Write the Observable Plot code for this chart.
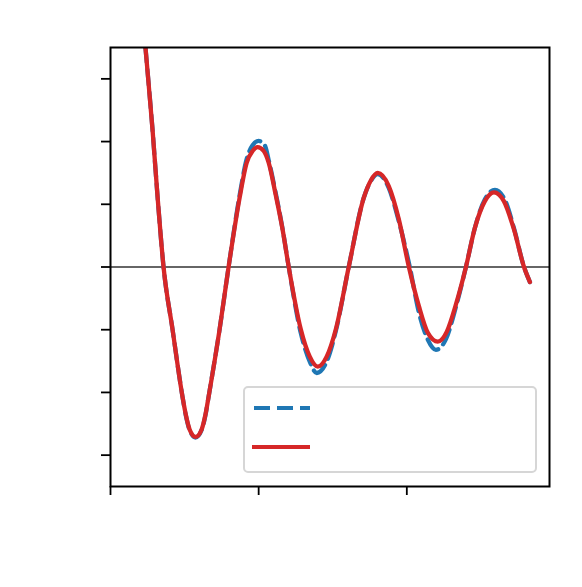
<!DOCTYPE html>
<html>
<head>
<meta charset="utf-8">
<script src="https://cdn.jsdelivr.net/npm/d3@7"></script>
<script src="https://cdn.jsdelivr.net/npm/@observablehq/plot@0.6"></script>
<style>
  body { margin: 0; background: #fff; font-family: "DejaVu Sans", sans-serif; }
  #wrap { position: relative; width: 582px; height: 587px; }
  #legend { position: absolute; left: 243px; top: 386px; width: 290px; height: 83px;
            border: 2px solid #d6d6d6; border-radius: 5px; background: rgba(255,255,255,0.8); }
  #legend svg { position: absolute; left: 0; top: 0; }
</style>
</head>
<body>
<div id="wrap"></div>
<script>
// Series
const xRed  = [0.209,0.236,0.284,0.318,0.358,0.419,0.486,0.507,0.534,0.574,0.615,0.642,0.662,0.736,0.797,0.872,0.919,0.959,0.993,1.034,1.068,1.115,1.162,1.203,1.284,1.345,1.399,1.459,1.520,1.608,1.709,1.757,1.804,1.878,1.946,2.014,2.081,2.142,2.209,2.270,2.331,2.399,2.459,2.527,2.588,2.655,2.723,2.791,2.831];
const yRed  = [4.25,3.50,2.18,1.11,0,-1.00,-2.07,-2.34,-2.59,-2.71,-2.59,-2.34,-2.07,-1.00,0,1.11,1.66,1.85,1.91,1.85,1.66,1.15,0.59,0,-0.99,-1.43,-1.59,-1.43,-1.00,0,1.10,1.38,1.50,1.29,0.76,0,-0.62,-1.05,-1.19,-1.03,-0.60,0,0.62,1.05,1.19,1.05,0.60,0,-0.24];
const xBlue = [0.209,0.236,0.284,0.318,0.358,0.419,0.486,0.507,0.534,0.574,0.615,0.642,0.662,0.736,0.797,0.872,0.919,0.959,1.000,1.041,1.068,1.115,1.162,1.203,1.284,1.345,1.392,1.459,1.520,1.608,1.709,1.757,1.804,1.878,1.946,2.020,2.081,2.142,2.196,2.264,2.331,2.399,2.459,2.527,2.595,2.662,2.723,2.791,2.831];
const yBlue = [4.25,3.50,2.18,1.11,0,-1.00,-2.07,-2.35,-2.60,-2.72,-2.60,-2.35,-2.07,-1.00,0,1.15,1.72,1.94,2.01,1.94,1.70,1.18,0.60,0,-1.05,-1.51,-1.69,-1.51,-1.03,0,1.10,1.37,1.48,1.26,0.73,0,-0.72,-1.16,-1.32,-1.15,-0.64,0,0.62,1.08,1.23,1.07,0.62,0,-0.24];
const xTicks = [0, 1, 2];
const yTicks = [-3, -2, -1, 0, 1, 2, 3];
const xDomain = [0, 2.963];
const yDomain = [-3.5, 3.5];

const red = xRed.map((x, i) => ({x, y: yRed[i]}));
const blue = xBlue.map((x, i) => ({x, y: yBlue[i]}));

const chart = Plot.plot({
  width: 582,
  height: 587,
  marginLeft: 110,
  marginRight: 33,
  marginTop: 47,
  marginBottom: 101,
  x: {domain: xDomain},
  y: {domain: yDomain},
  style: {background: "white"},
  marks: [
    Plot.ruleY([0], {stroke: "#333", strokeWidth: 1.5}),
    Plot.line(blue, {x: "x", y: "y", stroke: "#1f77b4", strokeWidth: 4.3, strokeDasharray: "16,7", curve: "monotone-x", clip: true}),
    Plot.line(red, {x: "x", y: "y", stroke: "#d62728", strokeWidth: 4.3, curve: "monotone-x", clip: true}),
    Plot.axisX({ticks: xTicks, tickSize: 9, tickFormat: () => "", label: null, strokeWidth: 1.8, stroke: "black"}),
    Plot.axisY({ticks: yTicks, tickSize: 9, tickFormat: () => "", label: null, strokeWidth: 1.8, stroke: "black"}),
    Plot.frame({stroke: "black", strokeWidth: 2})
  ]
});
const wrap = document.getElementById("wrap");
wrap.appendChild(chart);

const legend = document.createElement("div");
legend.id = "legend";
legend.innerHTML = `<svg width="290" height="83">
  <line x1="9" x2="65" y1="20" y2="20" stroke="#1f77b4" stroke-width="4" stroke-dasharray="16,7"></line>
  <line x1="7" x2="65" y1="59" y2="59" stroke="#d62728" stroke-width="4"></line>
</svg>`;
wrap.appendChild(legend);
</script>
</body>
</html>
